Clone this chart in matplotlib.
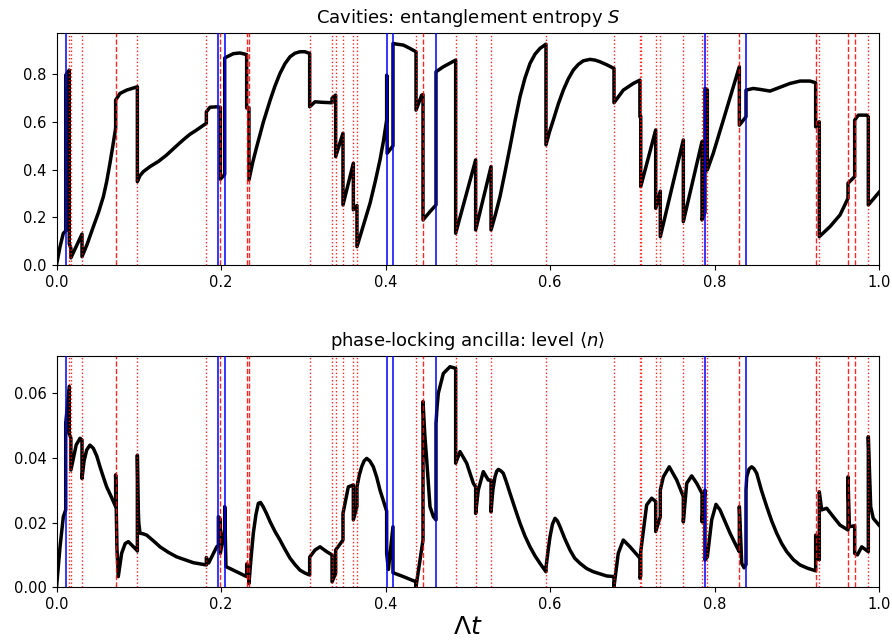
import matplotlib
matplotlib.use("Agg")
import matplotlib.pyplot as plt
import numpy as np

# ---- jump times (vertical markers) ----
blue_t = [0.0112, 0.1968, 0.2045, 0.4014, 0.4091, 0.4614, 0.7884, 0.8383]
red_dashed_t = [0.0719, 0.1992, 0.2312, 0.2340, 0.4456, 0.8302, 0.9230, 0.9623, 0.9704]
red_dotted_t = [0.0155, 0.0175, 0.0310, 0.0983, 0.1822, 0.3078, 0.3350, 0.3394,
                0.3483, 0.3609, 0.3653, 0.4371, 0.4853, 0.5096, 0.5283, 0.5951,
                0.6778, 0.7093, 0.7103, 0.7285, 0.7341, 0.7621, 0.7848, 0.7913,
                0.9274, 0.9870]

# ---- entanglement entropy S(t): (t, S) samples ----
S_points = [
    (0, 0), (0.0043, 0.077), (0.0083, 0.133), (0.0112, 0.143), (0.0112, 0.797),
    (0.0155, 0.818), (0.0155, 0.09), (0.0175, 0.07), (0.0175, 0.03), (0.031, 0.13),
    (0.031, 0.035), (0.037, 0.085), (0.0448, 0.161), (0.051, 0.22), (0.057, 0.287),
    (0.061, 0.35), (0.065, 0.427), (0.0685, 0.50), (0.0719, 0.574), (0.0719, 0.692),
    (0.0772, 0.72), (0.0853, 0.734), (0.0983, 0.748), (0.0983, 0.35), (0.1015, 0.375),
    (0.1056, 0.392), (0.1137, 0.413), (0.124, 0.435), (0.134, 0.462), (0.144, 0.494),
    (0.154, 0.525), (0.162, 0.548), (0.1705, 0.567), (0.1822, 0.595), (0.1822, 0.643),
    (0.1866, 0.662), (0.1945, 0.664), (0.1992, 0.662), (0.1992, 0.36), (0.2045, 0.38),
    (0.2045, 0.869), (0.215, 0.887), (0.2231, 0.89), (0.2312, 0.883), (0.2312, 0.659),
    (0.234, 0.66), (0.234, 0.357), (0.2385, 0.43), (0.2434, 0.496), (0.2515, 0.60),
    (0.2596, 0.69), (0.2655, 0.75), (0.2717, 0.804), (0.2778, 0.845), (0.2839, 0.874),
    (0.29, 0.889), (0.296, 0.895), (0.302, 0.895), (0.3078, 0.888), (0.3078, 0.664),
    (0.3143, 0.685), (0.3224, 0.683), (0.335, 0.681), (0.335, 0.70), (0.3394, 0.713),
    (0.3394, 0.455), (0.3483, 0.553), (0.3483, 0.252), (0.3609, 0.427), (0.3609, 0.232),
    (0.3653, 0.25), (0.3653, 0.077), (0.373, 0.165), (0.3812, 0.259), (0.3875, 0.35),
    (0.3933, 0.441), (0.3975, 0.52), (0.4014, 0.608), (0.4014, 0.797), (0.4020, 0.79),
    (0.4020, 0.469), (0.4091, 0.50), (0.4091, 0.93), (0.4136, 0.927), (0.4217, 0.923),
    (0.4298, 0.909), (0.4371, 0.895), (0.4371, 0.65), (0.444, 0.713), (0.4456, 0.715),
    (0.4456, 0.189), (0.4541, 0.224), (0.4614, 0.252), (0.4614, 0.811), (0.4703, 0.832),
    (0.4853, 0.86), (0.4853, 0.133), (0.5096, 0.441), (0.5096, 0.147), (0.5283, 0.413),
    (0.5283, 0.147), (0.5335, 0.21), (0.5392, 0.287), (0.5453, 0.39), (0.5514, 0.496),
    (0.5575, 0.605), (0.5635, 0.706), (0.5696, 0.785), (0.5757, 0.846), (0.5818, 0.885),
    (0.5878, 0.909), (0.5951, 0.927), (0.5951, 0.504), (0.5995, 0.56), (0.604, 0.608),
    (0.61, 0.675), (0.6162, 0.734), (0.6222, 0.781), (0.6283, 0.818), (0.6345, 0.842),
    (0.6405, 0.857), (0.6486, 0.863), (0.6547, 0.860), (0.6608, 0.853), (0.6693, 0.840),
    (0.6778, 0.825), (0.6778, 0.681), (0.6891, 0.734), (0.7013, 0.762), (0.7093, 0.776),
    (0.7093, 0.622), (0.7103, 0.624), (0.7103, 0.329), (0.7285, 0.567), (0.7285, 0.238),
    (0.7341, 0.31), (0.7341, 0.119), (0.7621, 0.525), (0.7621, 0.182), (0.7848, 0.518),
    (0.7848, 0.189), (0.7884, 0.22), (0.7884, 0.741), (0.7913, 0.735), (0.7913, 0.399),
    (0.7985, 0.469), (0.8107, 0.608), (0.8228, 0.748), (0.8302, 0.832), (0.8302, 0.587),
    (0.8383, 0.622), (0.8383, 0.734), (0.8472, 0.741), (0.8553, 0.737), (0.8675, 0.730),
    (0.8796, 0.746), (0.8918, 0.762), (0.904, 0.772), (0.9161, 0.772), (0.923, 0.765),
    (0.923, 0.580), (0.9274, 0.601), (0.9274, 0.119), (0.9404, 0.161), (0.9526, 0.210),
    (0.9623, 0.280), (0.9623, 0.343), (0.9704, 0.371), (0.9704, 0.608), (0.9749, 0.629),
    (0.985, 0.629), (0.987, 0.622), (0.987, 0.252), (1.0, 0.305),
]

# ---- ancilla level <n>(t): (t, n) samples ----
n_points = [
    (0, 0), (0.0043, 0.0125), (0.0083, 0.0218), (0.0112, 0.0239), (0.0112, 0.0506),
    (0.0155, 0.062), (0.0155, 0.0475), (0.0175, 0.046), (0.0175, 0.0362), (0.024, 0.044),
    (0.0286, 0.046), (0.031, 0.0455), (0.031, 0.0336), (0.0335, 0.039), (0.0367, 0.0424),
    (0.0407, 0.0439), (0.0448, 0.0429), (0.049, 0.0405), (0.0529, 0.0372), (0.057, 0.034),
    (0.061, 0.031), (0.0665, 0.028), (0.0719, 0.0249), (0.0719, 0.0347), (0.0735, 0.012),
    (0.0751, 0.0033), (0.0792, 0.0105), (0.0835, 0.0135), (0.0873, 0.0141), (0.0975, 0.0115),
    (0.0983, 0.0112), (0.0983, 0.0408), (0.0992, 0.026), (0.100, 0.020), (0.1015, 0.0167),
    (0.1055, 0.0165), (0.1097, 0.0161), (0.118, 0.0143), (0.1258, 0.0125), (0.136, 0.0108),
    (0.1461, 0.0094), (0.1663, 0.0076), (0.1822, 0.0069), (0.1822, 0.0092), (0.185, 0.0075),
    (0.1948, 0.0125), (0.1968, 0.013), (0.1968, 0.0218), (0.1992, 0.021), (0.1992, 0.0105),
    (0.2045, 0.018), (0.2045, 0.0249), (0.206, 0.0064), (0.219, 0.0048), (0.2312, 0.0033),
    (0.2312, 0.0072), (0.234, 0.006), (0.234, 0.0012), (0.2365, 0.009), (0.2393, 0.0167),
    (0.2425, 0.0225), (0.2454, 0.0259), (0.248, 0.0262), (0.251, 0.025), (0.2553, 0.0228),
    (0.2596, 0.0203), (0.2655, 0.0173), (0.2717, 0.0146), (0.2778, 0.0117), (0.2839, 0.009),
    (0.29, 0.007), (0.296, 0.0053), (0.302, 0.0044), (0.3078, 0.0038), (0.3078, 0.0093),
    (0.3143, 0.0115), (0.3204, 0.0125), (0.3285, 0.011), (0.335, 0.010), (0.335, 0.0017),
    (0.3394, 0.0043), (0.3394, 0.0115), (0.3483, 0.0146), (0.3483, 0.0228), (0.3548, 0.031),
    (0.3609, 0.0316), (0.3609, 0.0208), (0.3653, 0.025), (0.3653, 0.031), (0.368, 0.0345),
    (0.371, 0.0372), (0.374, 0.039), (0.3771, 0.0398), (0.381, 0.039), (0.3852, 0.0372),
    (0.3893, 0.034), (0.3933, 0.030), (0.397, 0.027), (0.4014, 0.0235), (0.4014, 0.0105),
    (0.4035, 0.0055), (0.4091, 0.0187), (0.4091, 0.0045), (0.4217, 0.0033), (0.4371, 0.0017),
    (0.4371, 0.0002), (0.442, 0.0084), (0.4456, 0.0146), (0.4456, 0.0573), (0.4478, 0.047),
    (0.4501, 0.0393), (0.4541, 0.0249), (0.4582, 0.0218), (0.4614, 0.0208), (0.4614, 0.0506),
    (0.4625, 0.055), (0.4642, 0.0599), (0.4703, 0.066), (0.4784, 0.0681), (0.4853, 0.0676),
    (0.4853, 0.0383), (0.4906, 0.0419), (0.4987, 0.0383), (0.5068, 0.0321), (0.5096, 0.031),
    (0.5096, 0.0228), (0.5128, 0.030), (0.5189, 0.0357), (0.525, 0.0331), (0.5283, 0.0331),
    (0.5283, 0.0233), (0.5305, 0.030), (0.5331, 0.0341), (0.5352, 0.0358), (0.5372, 0.0364),
    (0.540, 0.036), (0.5432, 0.0352), (0.547, 0.0325), (0.5514, 0.029), (0.5575, 0.0243),
    (0.5635, 0.0198), (0.5696, 0.0158), (0.5757, 0.0125), (0.5818, 0.0097), (0.5878, 0.0074),
    (0.5951, 0.0048), (0.5951, 0.006), (0.5975, 0.011), (0.600, 0.0156), (0.603, 0.0195),
    (0.6061, 0.0213), (0.609, 0.0205), (0.6122, 0.0187), (0.618, 0.015), (0.6243, 0.0115),
    (0.630, 0.009), (0.6365, 0.0074), (0.6445, 0.0058), (0.6527, 0.0048), (0.6689, 0.0035),
    (0.6778, 0.0033), (0.6778, 0.0002), (0.683, 0.0105), (0.6891, 0.0146), (0.6973, 0.0125),
    (0.7093, 0.009), (0.7093, 0.0028), (0.7103, 0.0035), (0.7103, 0.011), (0.7175, 0.0254),
    (0.7236, 0.0275), (0.7285, 0.0265), (0.7285, 0.0172), (0.7341, 0.0218), (0.7341, 0.030),
    (0.7378, 0.0341), (0.745, 0.0372), (0.7541, 0.0331), (0.7621, 0.028), (0.7621, 0.0202),
    (0.7662, 0.0321), (0.7723, 0.0344), (0.7784, 0.0321), (0.7848, 0.029), (0.7848, 0.0202),
    (0.7884, 0.030), (0.7884, 0.0084), (0.7913, 0.0094), (0.7966, 0.0208), (0.8018, 0.0256),
    (0.8067, 0.0239), (0.8189, 0.0167), (0.827, 0.0125), (0.8302, 0.011), (0.8302, 0.0249),
    (0.8331, 0.0074), (0.836, 0.006), (0.8383, 0.007), (0.8383, 0.030), (0.8392, 0.0341),
    (0.842, 0.0365), (0.8452, 0.0372), (0.848, 0.0366), (0.8513, 0.0352), (0.857, 0.030),
    (0.8635, 0.0249), (0.8695, 0.0205), (0.8756, 0.0167), (0.8815, 0.0136), (0.8878, 0.011),
    (0.896, 0.0085), (0.904, 0.0069), (0.913, 0.0059), (0.923, 0.0051), (0.923, 0.0161),
    (0.925, 0.009), (0.9274, 0.0085), (0.9274, 0.0295), (0.9303, 0.0239), (0.9364, 0.0244),
    (0.9444, 0.0218), (0.9526, 0.0192), (0.9623, 0.0177), (0.9623, 0.0341), (0.964, 0.0187),
    (0.9704, 0.019), (0.9704, 0.0105), (0.9737, 0.010), (0.979, 0.0125), (0.987, 0.011),
    (0.987, 0.0465), (0.9899, 0.0249), (0.993, 0.0213), (1.0, 0.0192),
]

titles = [r"Cavities: entanglement entropy $S$", r"phase-locking ancilla: level $\langle n\rangle$"]
xlabel = r"$\Lambda t$"
x_ticks = [0, 0.2, 0.4, 0.6, 0.8, 1.0]
x_ticklabels = ["0.0", "0.2", "0.4", "0.6", "0.8", "1.0"]
S_ticks = [0, 0.2, 0.4, 0.6, 0.8]
S_ticklabels = ["0.0", "0.2", "0.4", "0.6", "0.8"]
n_ticks = [0, 0.02, 0.04, 0.06]
n_ticklabels = ["0.00", "0.02", "0.04", "0.06"]

t_S, S_vals = zip(*S_points)
t_n, n_vals = zip(*n_points)

fig = plt.figure(figsize=(8.92, 6.43), dpi=100)
W, H = 892, 643
ax1 = fig.add_axes([56.5 / W, 1 - 265 / H, (879 - 56.5) / W, (265 - 32.7) / H])
ax2 = fig.add_axes([56.5 / W, 1 - 587.3 / H, (879 - 56.5) / W, (587.3 - 355.7) / H])

for ax, tt, yy, ttl, ylim in [(ax1, t_S, S_vals, titles[0], 0.975),
                              (ax2, t_n, n_vals, titles[1], 0.0715)]:
    ax.plot(tt, yy, color="black", lw=2.5, zorder=2)
    for t in blue_t:
        ax.axvline(t, color="blue", lw=1.1, zorder=3)
    for t in red_dashed_t:
        ax.axvline(t, color="red", lw=1.0, ls="--", alpha=0.85, zorder=3)
    for t in red_dotted_t:
        ax.axvline(t, color="red", lw=1.0, ls=":", alpha=0.85, zorder=3)
    ax.set_xlim(0, 1)
    ax.set_ylim(0, ylim)
    ax.set_title(ttl, fontsize=13, pad=7)
    ax.tick_params(labelsize=10.5)
    ax.set_xticks(x_ticks)
    ax.set_xticklabels(x_ticklabels)

ax1.set_yticks(S_ticks)
ax1.set_yticklabels(S_ticklabels)
ax2.set_yticks(n_ticks)
ax2.set_yticklabels(n_ticklabels)
ax2.set_xlabel(xlabel, fontsize=18, labelpad=2)

fig.savefig("out.png", dpi=100)
